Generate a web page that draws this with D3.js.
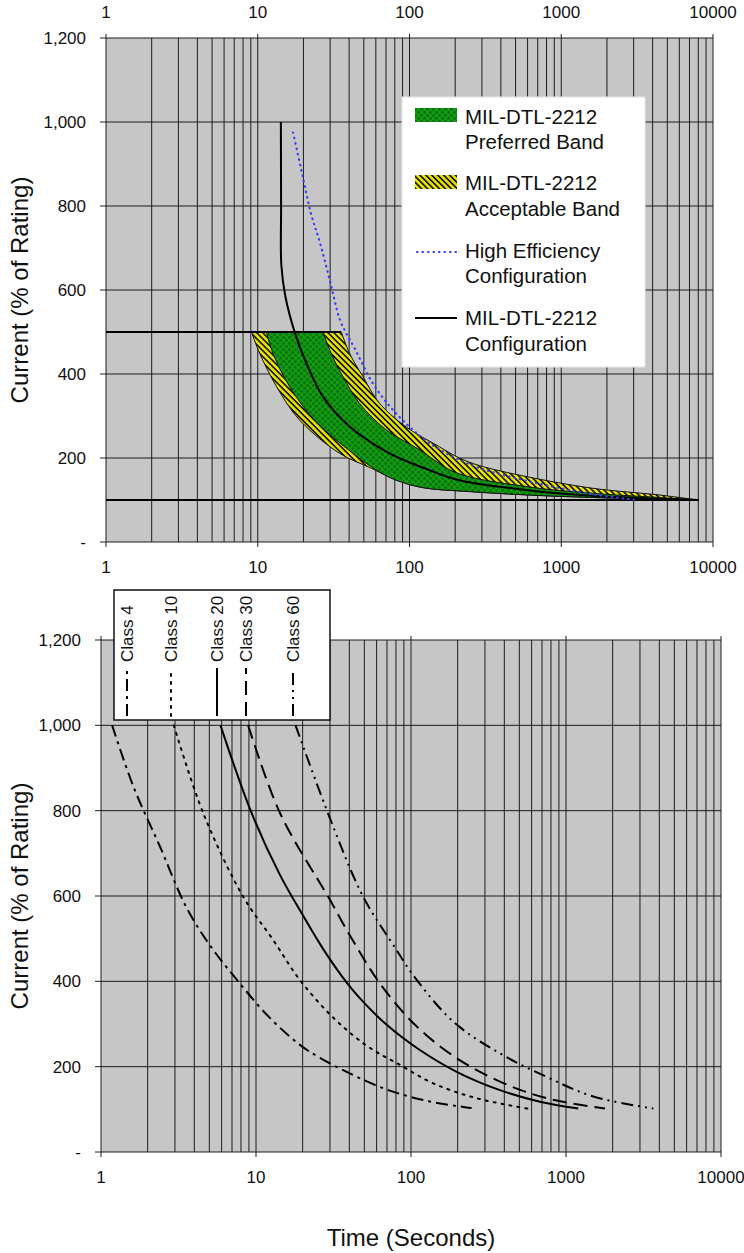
<!DOCTYPE html>
<html><head><meta charset="utf-8">
<script src="https://cdn.jsdelivr.net/npm/d3@7"></script>
<style>
body{margin:0;background:#fff}
svg{display:block}
text{font-family:"Liberation Sans",Arial,Helvetica,sans-serif;fill:#111}
</style>
</head><body>
<svg id="c" width="744" height="1253"></svg>
<script>
// ---------- DATA ----------
const timeTicks = [1, 10, 100, 1000, 10000];
const currentTicks = [0, 200, 400, 600, 800, 1000, 1200];

// Top chart: [time (s), current (% of rating)]
const acceptableLower = [[9.1,500],[10.3,449],[13.3,370],[18.9,290],[34.7,211],[55,177],[68,161],[80,149],[120,130],[250,120],[600,112],[1600,106],[4400,102],[8000,100]];
const acceptableUpper = [[35.5,500],[40.3,449],[49.3,394],[63.5,330],[95,274],[157,227],[213,200],[289,182],[586,156],[1607,128],[4413,112],[8000,100]];
const preferredLower  = [[11.4,500],[12.6,449],[16.2,370],[23.7,290],[42.4,211],[60,172],[78,150],[120,130],[250,120],[600,112],[1600,106],[4400,102],[8000,100]];
const preferredUpper  = [[26.9,500],[30.5,449],[36.4,394],[46.9,330],[70.3,267],[116,220],[200,166],[586,132],[1607,116],[4413,106],[8000,100]];
const highEfficiency  = [[17.1,975],[19.8,870],[22.5,780],[25.6,715],[30,620],[34.7,530],[38.3,497],[43.4,462],[57.3,378],[81.6,306],[135,236],[261,182],[586,146],[1607,114],[3000,101]];
const milConfig       = [[14.2,1000],[14.25,800],[14.3,660],[15.2,585],[17.5,500],[20.9,426],[26.9,346],[40.3,275],[73.8,211],[129,174],[213,147],[586,124],[1600,110],[4400,103],[8000,100]];
const overloadLevel   = [[1,500],[35.5,500]];
const ratingLevel     = [[1,100],[8000,100]];

// Bottom chart: trip classes
const classNames = ["Class 4","Class 10","Class 20","Class 30","Class 60"];
const class4  = [[1.18,1000],[1.62,856],[2.4,716],[3.57,572],[5.17,479],[7.87,395],[12,318],[19.2,251],[25.2,223],[42.5,180],[71.4,145],[126,120],[223,105],[246,103]];
const class10 = [[2.95,1000],[4.57,794],[8.28,598],[12.9,497],[19.2,403],[31.5,315],[51.8,249],[85,204],[139,161],[265,126],[601,100]];
const class20 = [[5.9,1000],[9.38,794],[14.3,649],[20.2,553],[27.2,475],[38.5,397],[46.9,360],[69.7,298],[114,239],[197,188],[375,145],[679,118],[1200,102]];
const class30 = [[8.9,1000],[14.3,794],[30,591],[40,510],[63,395],[109,294],[197,220],[375,165],[750,126],[1785,102]];
const class60 = [[18,1000],[30,782],[49.2,598],[80.9,473],[103,415],[188,305],[375,231],[750,176],[1500,130],[3660,102]];

// ---------- DRAW ----------
const svg = d3.select("#c");
const defs = svg.append("defs");

const hatch = defs.append("pattern").attr("id","hatch").attr("patternUnits","userSpaceOnUse")
  .attr("width",4.2).attr("height",4.2).attr("patternTransform","rotate(-45)");
hatch.append("rect").attr("width",4.2).attr("height",4.2).attr("fill","#e8e400");
hatch.append("rect").attr("width",1.7).attr("height",4.2).attr("fill","#1a1a00");

const green = defs.append("pattern").attr("id","green").attr("patternUnits","userSpaceOnUse")
  .attr("width",6).attr("height",6);
green.append("rect").attr("width",6).attr("height",6).attr("fill","#139a13");
green.append("circle").attr("cx",1.5).attr("cy",1.5).attr("r",1.4).attr("fill","#087008");
green.append("circle").attr("cx",4.5).attr("cy",4.5).attr("r",1.4).attr("fill","#087008");

const fmtY = v => v === 0 ? "-" : d3.format(",")(v);
const minorVals = [];
[1,10,100,1000].forEach(d => { for (let k = 1; k <= 9; k++) minorVals.push(k*d); });
minorVals.push(10000);

function frame(cfg){
  const x = d3.scaleLog().domain([1,10000]).range([cfg.x0,cfg.x1]);
  const y = d3.scaleLinear().domain([0,1200]).range([cfg.y0,cfg.y1]);
  const g = svg.append("g");
  g.append("rect").attr("x",cfg.x0).attr("y",cfg.y1).attr("width",cfg.x1-cfg.x0).attr("height",cfg.y0-cfg.y1).attr("fill","#c6c6c6");
  g.selectAll(".vg").data(minorVals).join("line")
    .attr("x1",d=>x(d)).attr("x2",d=>x(d)).attr("y1",cfg.y1).attr("y2",cfg.y0)
    .attr("stroke","#1c1c1c").attr("stroke-width",1);
  g.selectAll(".hg").data(currentTicks).join("line")
    .attr("x1",cfg.x0).attr("x2",cfg.x1).attr("y1",d=>y(d)).attr("y2",d=>y(d))
    .attr("stroke","#1c1c1c").attr("stroke-width",1);
  g.selectAll(".yt").data(currentTicks).join("line")
    .attr("x1",cfg.x0-6).attr("x2",cfg.x0).attr("y1",d=>y(d)).attr("y2",d=>y(d)).attr("stroke","#1c1c1c");
  g.selectAll(".yl").data(currentTicks).join("text")
    .attr("x",cfg.x0-20).attr("y",d=>y(d)).attr("dy","0.35em").attr("text-anchor","end")
    .attr("font-size",17).text(fmtY);
  g.selectAll(".xtb").data(timeTicks).join("line")
    .attr("x1",d=>x(d)).attr("x2",d=>x(d)).attr("y1",cfg.y0).attr("y2",cfg.y0+5).attr("stroke","#1c1c1c");
  g.selectAll(".xtt").data(timeTicks).join("line")
    .attr("x1",d=>x(d)).attr("x2",d=>x(d)).attr("y1",cfg.y1-4).attr("y2",cfg.y1).attr("stroke","#1c1c1c");
  g.selectAll(".xlb").data(timeTicks).join("text")
    .attr("x",d=>x(d)).attr("y",cfg.y0+31).attr("text-anchor","middle").attr("font-size",17).text(d=>d);
  if (cfg.topLabels) {
    g.selectAll(".xlt").data(timeTicks).join("text")
      .attr("x",d=>x(d)).attr("y",cfg.y1-20).attr("text-anchor","middle").attr("font-size",17).text(d=>d);
  }
  svg.append("text").attr("transform",`translate(${cfg.titleX},${(cfg.y0+cfg.y1)/2}) rotate(-90)`)
    .attr("text-anchor","middle").attr("dy","0.35em").attr("font-size",24).text("Current (% of Rating)");
  return {x, y, g};
}

// ===== Top chart =====
const T = frame({x0:106,x1:713,y0:542,y1:38,topLabels:true,titleX:20});
const ptsT = arr => arr.map(d => [T.x(d[0]), T.y(d[1])]);
const curve = d3.line().curve(d3.curveCatmullRom.alpha(0.5));
function band(lower, upper){
  const a = curve(ptsT(lower));
  const b = curve(ptsT(upper.slice().reverse())).replace(/^M/,"L");
  return a + b + "Z";
}
T.g.append("path").attr("d",band(acceptableLower,acceptableUpper))
  .attr("fill","url(#hatch)").attr("stroke","#111").attr("stroke-width",1);
T.g.append("path").attr("d",band(preferredLower,preferredUpper))
  .attr("fill","url(#green)").attr("stroke","#111").attr("stroke-width",1);
T.g.append("path").attr("d",d3.line()(ptsT(ratingLevel))).attr("stroke","#000").attr("stroke-width",2.2).attr("fill","none");
T.g.append("path").attr("d",d3.line()(ptsT(overloadLevel))).attr("stroke","#000").attr("stroke-width",2.2).attr("fill","none");
T.g.append("path").attr("d",curve(ptsT(milConfig))).attr("stroke","#000").attr("stroke-width",2).attr("fill","none");
T.g.append("path").attr("d",curve(ptsT(highEfficiency))).attr("stroke","#3a3aff").attr("stroke-width",2.2)
  .attr("stroke-dasharray","0.5,5").attr("stroke-linecap","round").attr("fill","none");

// legend top
const LG = svg.append("g");
LG.append("rect").attr("x",402).attr("y",97).attr("width",243).attr("height",270).attr("fill","#fff").attr("stroke","#e6e6e6");
LG.append("rect").attr("x",415).attr("y",108).attr("width",42).attr("height",14).attr("fill","url(#green)");
LG.append("rect").attr("x",415).attr("y",175).attr("width",42).attr("height",14).attr("fill","url(#hatch)");
LG.append("line").attr("x1",417).attr("x2",457).attr("y1",252).attr("y2",252).attr("stroke","#3a3aff")
  .attr("stroke-width",2.2).attr("stroke-dasharray","0.5,5").attr("stroke-linecap","round");
LG.append("line").attr("x1",415).attr("x2",457).attr("y1",318).attr("y2",318).attr("stroke","#000").attr("stroke-width",2);
const legendLines = [["MIL-DTL-2212",124],["Preferred Band",149],["MIL-DTL-2212",190],["Acceptable Band",216],
  ["High Efficiency",258],["Configuration",283],["MIL-DTL-2212",325],["Configuration",351]];
LG.selectAll("text").data(legendLines).join("text").attr("x",465).attr("y",d=>d[1]).attr("font-size",20.5).text(d=>d[0]);

// ===== Bottom chart =====
const B = frame({x0:101,x1:721,y0:1152,y1:640,topLabels:false,titleX:20});
const ptsB = arr => arr.map(d => [B.x(d[0]), B.y(d[1])]);
const classSeries = [class4, class10, class20, class30, class60];
const dashes = ["12,5,3,5", "2,6", null, "14,7", "12,5,2,5,2,5"];
classSeries.forEach((s,i) => {
  B.g.append("path").attr("d",curve(ptsB(s))).attr("fill","none").attr("stroke","#000").attr("stroke-width",2)
    .attr("stroke-dasharray",dashes[i]).attr("stroke-linecap", i===1 ? "round" : "butt");
});
// bottom legend
const LB = svg.append("g");
LB.append("rect").attr("x",114).attr("y",590).attr("width",216).attr("height",130).attr("fill","#fff").attr("stroke","#111").attr("stroke-width",1.5);
const legX = [127,171,217,246,293];
classNames.forEach((n,i) => {
  LB.append("text").attr("transform",`translate(${legX[i]},662) rotate(-90)`).attr("dy","0.35em")
    .attr("font-size",17).text(n);
  LB.append("line").attr("x1",legX[i]).attr("x2",legX[i]).attr("y1",716).attr("y2",668)
    .attr("stroke","#000").attr("stroke-width",2).attr("stroke-dasharray",dashes[i])
    .attr("stroke-linecap", i===1 ? "round" : "butt");
});
svg.append("text").attr("x",(101+721)/2).attr("y",1246).attr("text-anchor","middle").attr("font-size",24).text("Time (Seconds)");
</script>
</body></html>
